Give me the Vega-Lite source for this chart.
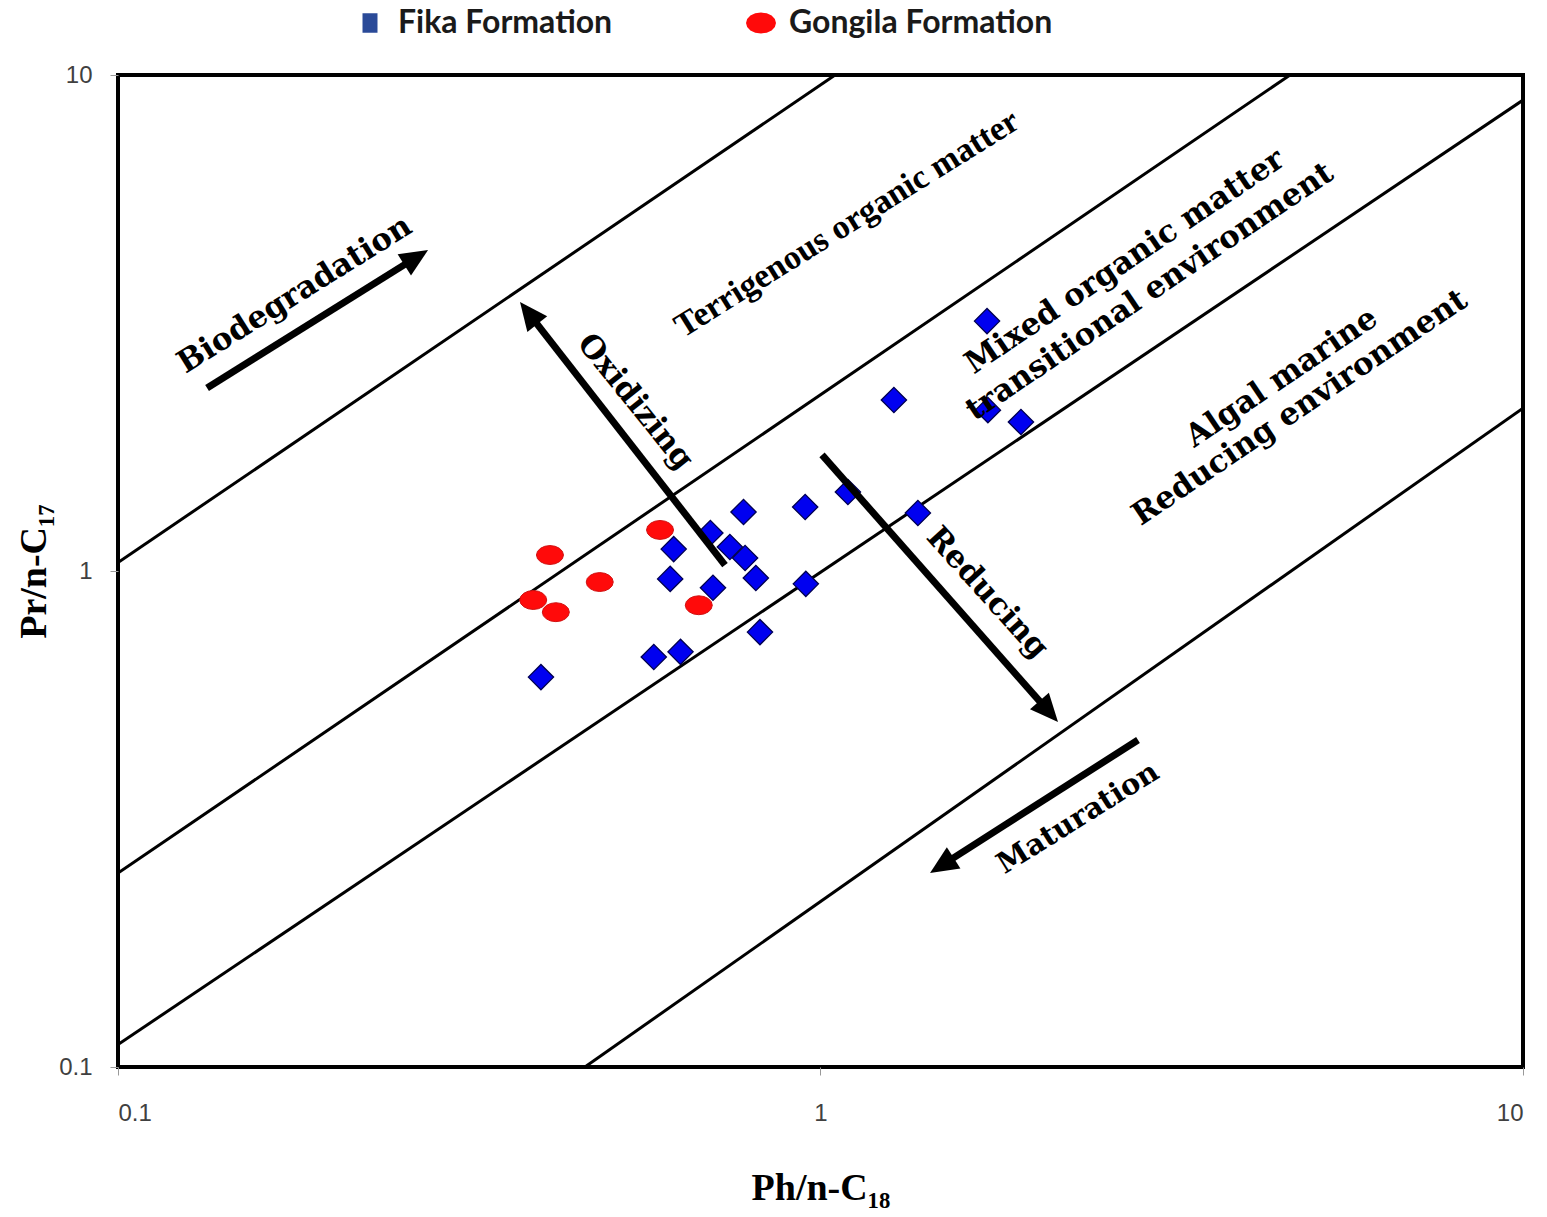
{
  "$schema": "https://vega.github.io/schema/vega-lite/v6.json",
  "width": 1405,
  "height": 992,
  "autosize": {"type": "none"},
  "padding": {"left": 118, "top": 75, "right": 24, "bottom": 150},
  "background": "white",
  "datasets": {
    "pts": [
      {"formation": "Fika Formation", "ph": 0.400, "pr": 0.611},
      {"formation": "Fika Formation", "ph": 0.579, "pr": 0.671},
      {"formation": "Fika Formation", "ph": 0.632, "pr": 0.687},
      {"formation": "Fika Formation", "ph": 0.611, "pr": 0.964},
      {"formation": "Fika Formation", "ph": 0.618, "pr": 1.107},
      {"formation": "Fika Formation", "ph": 0.703, "pr": 0.925},
      {"formation": "Fika Formation", "ph": 0.697, "pr": 1.193},
      {"formation": "Fika Formation", "ph": 0.743, "pr": 1.118},
      {"formation": "Fika Formation", "ph": 0.781, "pr": 1.062},
      {"formation": "Fika Formation", "ph": 0.777, "pr": 1.315},
      {"formation": "Fika Formation", "ph": 0.809, "pr": 0.968},
      {"formation": "Fika Formation", "ph": 0.820, "pr": 0.753},
      {"formation": "Fika Formation", "ph": 0.951, "pr": 1.346},
      {"formation": "Fika Formation", "ph": 0.953, "pr": 0.942},
      {"formation": "Fika Formation", "ph": 1.094, "pr": 1.443},
      {"formation": "Fika Formation", "ph": 1.376, "pr": 1.309},
      {"formation": "Fika Formation", "ph": 1.272, "pr": 2.212},
      {"formation": "Fika Formation", "ph": 1.726, "pr": 3.19},
      {"formation": "Fika Formation", "ph": 1.731, "pr": 2.11},
      {"formation": "Fika Formation", "ph": 1.929, "pr": 1.997},
      {"formation": "Gongila Formation", "ph": 0.412, "pr": 1.077},
      {"formation": "Gongila Formation", "ph": 0.485, "pr": 0.950},
      {"formation": "Gongila Formation", "ph": 0.390, "pr": 0.874},
      {"formation": "Gongila Formation", "ph": 0.420, "pr": 0.826},
      {"formation": "Gongila Formation", "ph": 0.591, "pr": 1.210},
      {"formation": "Gongila Formation", "ph": 0.671, "pr": 0.853}
    ],
    "lines": [
      {"x1": 0.1, "y1": 1.04, "x2": 1.049, "y2": 10},
      {"x1": 0.1, "y1": 0.246, "x2": 4.66, "y2": 10},
      {"x1": 0.1, "y1": 0.111, "x2": 10, "y2": 8.90},
      {"x1": 0.462, "y1": 0.1, "x2": 10, "y2": 2.13}
    ],
    "arrows": [
      {"name": "Biodegradation", "x1": 0.1339, "y1": 2.339, "x2": 0.2650, "y2": 4.279, "tx": 0.2763, "ty": 4.438},
      {"name": "Oxidizing", "x1": 0.7312, "y1": 1.028, "x2": 0.3848, "y2": 3.299, "tx": 0.3735, "ty": 3.485},
      {"name": "Reducing", "x1": 1.005, "y1": 1.714, "x2": 2.109, "y2": 0.5225, "tx": 2.178, "ty": 0.4962},
      {"name": "Maturation", "x1": 2.831, "y1": 0.4563, "x2": 1.492, "y2": 0.2556, "tx": 1.432, "ty": 0.2461}
    ],
    "notes": [
      {"text": "Biodegradation", "x": 0.1786, "y": 3.602},
      {"text": "Terrigenous organic matter", "x": 1.091, "y": 5.008},
      {"text": "Mixed organic matter", "x": 2.713, "y": 4.198},
      {"text": "transitional environment", "x": 2.944, "y": 3.652},
      {"text": "Algal marine", "x": 4.538, "y": 2.449},
      {"text": "Reducing environment", "x": 4.814, "y": 2.131},
      {"text": "Oxidizing", "x": 0.5444, "y": 2.191},
      {"text": "Reducing", "x": 1.726, "y": 0.9029},
      {"text": "Maturation", "x": 2.325, "y": 0.3177}
    ]
  },
  "layer": [
    {
      "data": {"name": "lines"},
      "mark": {"type": "rule", "color": "black", "strokeWidth": 3, "clip": true},
      "encoding": {
        "x": {"field": "x1", "type": "quantitative", "scale": {"type": "log", "domain": [0.1, 10], "nice": false},
          "axis": {"values": [0.1, 1, 10], "format": "~g", "title": "Ph/n-C₁₈", "grid": false, "domain": false,
            "tickSize": 8, "tickColor": "#999999", "labelPadding": 26, "labelFont": "Liberation Sans Narrow, Liberation Sans", "labelFontSize": 24, "labelColor": "#404040",
            "titleFont": "Liberation Serif", "titleFontWeight": "bold", "titleFontSize": 38, "titleColor": "black", "titlePadding": 44}},
        "y": {"field": "y1", "type": "quantitative", "scale": {"type": "log", "domain": [0.1, 10], "nice": false},
          "axis": {"values": [0.1, 1, 10], "format": "~g", "title": "Pr/n-C₁₇", "grid": false, "domain": false,
            "tickSize": 8, "tickColor": "#999999", "labelPadding": 18, "labelFont": "Liberation Sans Narrow, Liberation Sans", "labelFontSize": 24, "labelColor": "#404040",
            "titleFont": "Liberation Serif", "titleFontWeight": "bold", "titleFontSize": 38, "titleColor": "black", "titlePadding": 5}},
        "x2": {"field": "x2"},
        "y2": {"field": "y2"}
      }
    },
    {
      "data": {"name": "pts"},
      "mark": {"type": "point", "filled": true, "opacity": 1, "size": 12},
      "encoding": {
        "x": {"field": "ph", "type": "quantitative"},
        "y": {"field": "pr", "type": "quantitative"},
        "color": {"field": "formation", "type": "nominal",
          "scale": {"domain": ["Fika Formation", "Gongila Formation"], "range": ["#2a4a98", "#ff0a0a"]},
          "legend": {"title": null, "orient": "none", "legendX": 236, "legendY": -68, "direction": "horizontal",
            "labelFont": "Lato", "labelFontWeight": "bold", "labelFontSize": 32, "labelColor": "#1a1a1a", "labelLimit": 0,
            "labelOffset": 12, "columnPadding": 132, "symbolSize": 900, "symbolOpacity": 1, "symbolStrokeWidth": 0}},
        "shape": {"field": "formation", "type": "nominal",
          "scale": {"domain": ["Fika Formation", "Gongila Formation"],
            "range": ["M-0.5,-0.65L0.5,-0.65L0.5,0.65L-0.5,0.65Z",
              "M1,0L0.924,0.268L0.707,0.495L0.383,0.647L0,0.7L-0.383,0.647L-0.707,0.495L-0.924,0.268L-1,0L-0.924,-0.268L-0.707,-0.495L-0.383,-0.647L0,-0.7L0.383,-0.647L0.707,-0.495L0.924,-0.268Z"]}}
      }
    },
    {
      "data": {"name": "pts"},
      "transform": [{"filter": "datum.formation === 'Fika Formation'"}],
      "mark": {"type": "point", "filled": true, "opacity": 1, "shape": "diamond", "size": 640, "fill": "#0000f0", "stroke": "#000050", "strokeWidth": 1.3},
      "encoding": {
        "x": {"field": "ph", "type": "quantitative"},
        "y": {"field": "pr", "type": "quantitative"}
      }
    },
    {
      "data": {"name": "pts"},
      "transform": [{"filter": "datum.formation === 'Gongila Formation'"}],
      "mark": {"type": "point", "filled": true, "opacity": 1, "size": 729, "fill": "#ff0a0a", "stroke": "#d01010", "strokeWidth": 1,
        "shape": "M1,0L0.924,0.268L0.707,0.495L0.383,0.647L0,0.7L-0.383,0.647L-0.707,0.495L-0.924,0.268L-1,0L-0.924,-0.268L-0.707,-0.495L-0.383,-0.647L0,-0.7L0.383,-0.647L0.707,-0.495L0.924,-0.268Z"},
      "encoding": {
        "x": {"field": "ph", "type": "quantitative"},
        "y": {"field": "pr", "type": "quantitative"}
      }
    },
    {
      "data": {"name": "arrows"},
      "mark": {"type": "rule", "color": "black", "strokeWidth": 7, "strokeCap": "butt"},
      "encoding": {
        "x": {"field": "x1", "type": "quantitative"},
        "y": {"field": "y1", "type": "quantitative"},
        "x2": {"field": "x2"},
        "y2": {"field": "y2"}
      }
    },
    {
      "data": {"name": "arrows"},
      "transform": [{"filter": "datum.name === 'Biodegradation'"}],
      "mark": {"type": "point", "filled": true, "color": "black", "opacity": 1, "size": 784, "angle": 58, "shape": "M0,0L-0.9,2L0.9,2Z"},
      "encoding": {"x": {"field": "tx", "type": "quantitative"}, "y": {"field": "ty", "type": "quantitative"}}
    },
    {
      "data": {"name": "arrows"},
      "transform": [{"filter": "datum.name === 'Oxidizing'"}],
      "mark": {"type": "point", "filled": true, "color": "black", "opacity": 1, "size": 784, "angle": 322, "shape": "M0,0L-0.9,2L0.9,2Z"},
      "encoding": {"x": {"field": "tx", "type": "quantitative"}, "y": {"field": "ty", "type": "quantitative"}}
    },
    {
      "data": {"name": "arrows"},
      "transform": [{"filter": "datum.name === 'Reducing'"}],
      "mark": {"type": "point", "filled": true, "color": "black", "opacity": 1, "size": 784, "angle": 138.5, "shape": "M0,0L-0.9,2L0.9,2Z"},
      "encoding": {"x": {"field": "tx", "type": "quantitative"}, "y": {"field": "ty", "type": "quantitative"}}
    },
    {
      "data": {"name": "arrows"},
      "transform": [{"filter": "datum.name === 'Maturation'"}],
      "mark": {"type": "point", "filled": true, "color": "black", "opacity": 1, "size": 784, "angle": 237.4, "shape": "M0,0L-0.9,2L0.9,2Z"},
      "encoding": {"x": {"field": "tx", "type": "quantitative"}, "y": {"field": "ty", "type": "quantitative"}}
    },
    {
      "data": {"name": "notes"},
      "transform": [{"filter": {"field": "text", "oneOf": ["Biodegradation"]}}],
      "mark": {"type": "text", "font": "DejaVu Serif", "fontWeight": "bold", "fontSize": 31, "angle": -32, "align": "center", "baseline": "middle", "color": "black"},
      "encoding": {"x": {"field": "x", "type": "quantitative"}, "y": {"field": "y", "type": "quantitative"}, "text": {"field": "text"}}
    },
    {
      "data": {"name": "notes"},
      "transform": [{"filter": {"field": "text", "oneOf": ["Maturation"]}}],
      "mark": {"type": "text", "font": "DejaVu Serif", "fontWeight": "bold", "fontSize": 29, "angle": -32, "align": "center", "baseline": "middle", "color": "black"},
      "encoding": {"x": {"field": "x", "type": "quantitative"}, "y": {"field": "y", "type": "quantitative"}, "text": {"field": "text"}}
    },
    {
      "data": {"name": "notes"},
      "transform": [{"filter": {"field": "text", "oneOf": ["Terrigenous organic matter"]}}],
      "mark": {"type": "text", "font": "Liberation Serif", "fontWeight": "bold", "fontSize": 34, "angle": -32, "align": "center", "baseline": "middle", "color": "black"},
      "encoding": {"x": {"field": "x", "type": "quantitative"}, "y": {"field": "y", "type": "quantitative"}, "text": {"field": "text"}}
    },
    {
      "data": {"name": "notes"},
      "transform": [{"filter": {"field": "text", "oneOf": ["Mixed organic matter", "transitional environment", "Algal marine", "Reducing environment"]}}],
      "mark": {"type": "text", "font": "DejaVu Serif", "fontWeight": "bold", "fontSize": 31, "angle": -34, "align": "center", "baseline": "middle", "color": "black"},
      "encoding": {"x": {"field": "x", "type": "quantitative"}, "y": {"field": "y", "type": "quantitative"}, "text": {"field": "text"}}
    },
    {
      "data": {"name": "notes"},
      "transform": [{"filter": {"field": "text", "oneOf": ["Oxidizing"]}}],
      "mark": {"type": "text", "font": "DejaVu Serif", "fontWeight": "bold", "fontSize": 31, "angle": 51, "align": "center", "baseline": "middle", "color": "black"},
      "encoding": {"x": {"field": "x", "type": "quantitative"}, "y": {"field": "y", "type": "quantitative"}, "text": {"field": "text"}}
    },
    {
      "data": {"name": "notes"},
      "transform": [{"filter": {"field": "text", "oneOf": ["Reducing"]}}],
      "mark": {"type": "text", "font": "DejaVu Serif", "fontWeight": "bold", "fontSize": 31, "angle": 48, "align": "center", "baseline": "middle", "color": "black"},
      "encoding": {"x": {"field": "x", "type": "quantitative"}, "y": {"field": "y", "type": "quantitative"}, "text": {"field": "text"}}
    }
  ],
  "config": {
    "view": {"stroke": "black", "strokeWidth": 4},
    "axis": {"grid": false}
  }
}
